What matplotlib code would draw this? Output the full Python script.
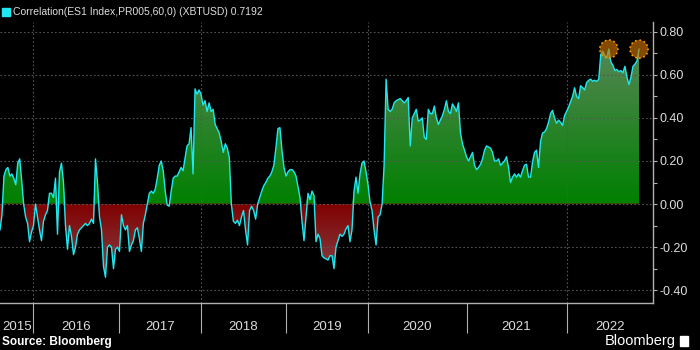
import numpy as np
import matplotlib
matplotlib.use("Agg")
import matplotlib.pyplot as plt
from matplotlib.path import Path
from matplotlib.patches import Rectangle
from matplotlib.ticker import FixedLocator, FixedFormatter, MultipleLocator, FormatStrFormatter

# 60-day correlation ES1 Index vs XBTUSD, values read per year (evenly spaced in each year)
corr_2015 = [-0.12, -0.05, 0.13, 0.16, 0.17, 0.13, 0.14, 0.12, 0.09, 0.19, 0.21, 0.11,
             0.0, -0.06, -0.09, -0.175, -0.13]
corr_2016 = [-0.10, 0.0, -0.06, -0.12, -0.17, -0.08, -0.05, -0.03, 0.05, 0.05, 0.03, 0.12,
             -0.14, 0.15, 0.19, 0.10, -0.10, -0.21, -0.10, -0.15, -0.235, -0.20, -0.14, -0.12,
             -0.11, -0.10, -0.09, -0.10, -0.09, -0.07, -0.09, 0.21, 0.10, -0.06, -0.12, -0.29,
             -0.34, -0.20, -0.19, -0.20, -0.30, -0.21, -0.20]
corr_2017 = [-0.22, -0.05, -0.10, -0.12, -0.10, -0.22, -0.19, -0.17, -0.12, -0.11, -0.16, -0.22,
             -0.09, -0.05, 0.0, 0.05, 0.06, 0.05, 0.07, 0.12, 0.18, 0.20, 0.155, 0.06,
             -0.005, -0.01, 0.06, 0.12, 0.13, 0.13, 0.15, 0.17, 0.155, 0.215, 0.27, 0.28,
             0.355, 0.14, 0.535, 0.51, 0.53]
corr_2018 = [0.51, 0.46, 0.48, 0.43, 0.47, 0.43, 0.44, 0.37, 0.35, 0.33, 0.29, 0.24,
             0.28, 0.26, 0.215, 0.0, -0.08, -0.09, -0.075, -0.10, -0.06, -0.03, -0.12, -0.19,
             -0.03, -0.01, -0.03, -0.07, 0.0, 0.03, 0.06, 0.085, 0.10, 0.12, 0.13, 0.15,
             0.18, 0.26, 0.35, 0.355, 0.25, 0.17]
corr_2019 = [0.13, 0.15, 0.16, 0.16, 0.15, 0.13, 0.08, 0.03, -0.08, -0.17, -0.06, 0.05,
             0.02, 0.06, 0.04, -0.175, -0.14, -0.16, -0.24, -0.25, -0.255, -0.26, -0.24, -0.24,
             -0.30, -0.20, -0.17, -0.14, -0.15, -0.14, -0.115, -0.10, -0.175, -0.12, 0.06, 0.125,
             0.05, 0.14, 0.19, 0.20, 0.15]
corr_2020 = [0.09, 0.01, -0.03, -0.12, -0.19, -0.06, -0.05, 0.0, 0.18, 0.58, 0.44, 0.43,
             0.44, 0.47, 0.48, 0.485, 0.49, 0.48, 0.47, 0.48, 0.495, 0.27, 0.40, 0.42,
             0.44, 0.385, 0.39, 0.40, 0.31, 0.30, 0.44, 0.42, 0.42, 0.455, 0.40, 0.37,
             0.39, 0.41, 0.44, 0.48, 0.43, 0.42, 0.465, 0.45, 0.43, 0.47, 0.33, 0.28, 0.25]
corr_2021 = [0.22, 0.20, 0.22, 0.24, 0.18, 0.16, 0.17, 0.185, 0.21, 0.25, 0.27, 0.265,
             0.26, 0.24, 0.20, 0.20, 0.21, 0.18, 0.19, 0.20, 0.22, 0.17, 0.10, 0.125,
             0.14, 0.125, 0.14, 0.125, 0.155, 0.18, 0.185, 0.125, 0.125, 0.195, 0.24, 0.25,
             0.17, 0.29, 0.33, 0.335, 0.35, 0.38, 0.42, 0.435, 0.40, 0.375, 0.39, 0.38,
             0.365, 0.41]
corr_2022 = [0.43, 0.45, 0.475, 0.50, 0.54, 0.50, 0.49, 0.55, 0.54, 0.53, 0.565, 0.575,
             0.58, 0.57, 0.575, 0.57, 0.58, 0.695, 0.71, 0.69, 0.68, 0.72, 0.66, 0.645,
             0.62, 0.625, 0.615, 0.62, 0.61, 0.64, 0.59, 0.555, 0.59, 0.64, 0.65, 0.665,
             0.7192]

series_start = 2015.606
series_end = 2022.725
year_labels = ["2015", "2016", "2017", "2018", "2019", "2020", "2021", "2022"]

# time axis is not calendar-uniform on the terminal chart: width of each year
year_edges = [2015, 2016, 2017, 2018, 2019, 2020, 2021, 2022, 2023]
year_widths = [85, 86, 81.5, 85, 82, 98.5, 100, 100]
edge_pos = np.concatenate([[0], np.cumsum(year_widths)])


def fwd(x):
    return np.interp(x, year_edges, edge_pos)


def inv(p):
    return np.interp(p, edge_pos, year_edges)


per_year = [corr_2015, corr_2016, corr_2017, corr_2018, corr_2019, corr_2020, corr_2021, corr_2022]
xs, ys = [], []
for yr, vals in zip(range(2015, 2023), per_year):
    n = len(vals)
    if yr == 2015:
        t = np.linspace(series_start, 2016, n, endpoint=False)
    elif yr == 2022:
        t = np.linspace(2022, series_end, n)
    else:
        t = yr + np.arange(n) / n
    xs.extend(t)
    ys.extend(vals)
x = np.array(xs)
y = np.array(ys)

xmin, xmax = 2015.606, 2022.865
ymin, ymax = -0.461, 0.8455

plt.rcParams['font.family'] = ['Liberation Sans', 'DejaVu Sans']
fig = plt.figure(figsize=(7, 3.5), dpi=100, facecolor='black')
ax = fig.add_axes([0, 0.1334, 0.9329, 0.8037], facecolor='black')
ax.set_xscale('function', functions=(fwd, inv))

# gradient fills, clipped to the area between the line and zero
pos = ax.fill_between(x, np.maximum(y, 0), 0, color='none', lw=0)
neg = ax.fill_between(x, np.minimum(y, 0), 0, color='none', lw=0)
clip = Path.make_compound_path(pos.get_paths()[0], neg.get_paths()[0])

rows = 400
vv = np.linspace(ymin, ymax, rows)
img = np.zeros((rows, 1, 3))
g = np.clip(vv / 0.8, 0, 1)
r = np.clip(-vv / 0.4, 0, 1)
green0, green1 = np.array([0, 128, 0]), np.array([95, 135, 95])
red0, red1 = np.array([128, 0, 0]), np.array([135, 80, 85])
for i, v in enumerate(vv):
    if v >= 0:
        img[i, 0] = (green0 + (green1 - green0) * g[i]) / 255
    else:
        img[i, 0] = (red0 + (red1 - red0) * r[i]) / 255
im = ax.imshow(img, extent=(0, 1, 0, 1), transform=ax.transAxes, origin='lower',
               aspect='auto', interpolation='bilinear', zorder=1)
im.set_clip_path(clip, transform=ax.transData)

ax.plot(x, y, color='#1ee8f0', lw=1.0, zorder=3)

# highlight the two 2022 peaks
hi = [int(np.argmax(y)), len(y) - 1]
ax.scatter(x[hi], y[hi], s=170, facecolor=(0.8, 0.45, 0.0, 0.65), edgecolor='#ff9900',
           linewidths=1.2, linestyles=':', zorder=4)

ax.set_xlim(xmin, xmax)
ax.set_ylim(ymin, ymax)

# grid
ax.set_axisbelow('line')
ax.grid(axis='y', which='major', color='#555555', linestyle=(0, (1.5, 2)), lw=0.8)
for yr in (2016, 2018, 2020, 2022):
    ax.axvline(yr, color='#555555', linestyle=(0, (1.5, 2)), lw=0.8, zorder=1.5)

for s in ('top', 'left'):
    ax.spines[s].set_visible(False)
for s in ('bottom', 'right'):
    ax.spines[s].set_color('#b0b0b0')
    ax.spines[s].set_linewidth(1.0)

ax.yaxis.tick_right()
ax.yaxis.set_major_locator(MultipleLocator(0.2))
ax.yaxis.set_minor_locator(MultipleLocator(0.1))
ax.yaxis.set_major_formatter(FormatStrFormatter('%.2f'))
ax.tick_params(axis='y', which='both', colors='#b0b0b0', labelcolor='#dddddd',
               length=3, width=0.8, pad=1.5, labelsize=9)

label_pos = [(xmin + 2016) / 2] + [yr + 0.5 for yr in range(2016, 2022)] + [(2022 + xmax) / 2]
ax.xaxis.set_major_locator(FixedLocator(label_pos))
ax.xaxis.set_major_formatter(FixedFormatter(year_labels))
ax.xaxis.set_minor_locator(FixedLocator(range(2016, 2023)))
ax.tick_params(axis='x', which='minor', length=21.6, width=0.8, color='#b0b0b0')
ax.tick_params(axis='x', which='major', length=0, pad=12.5, labelcolor='#dddddd', labelsize=9.5)

# header and footer
fig.patches.append(Rectangle((2 / 700, 1 - 16 / 350), 8 / 700, 8 / 350,
                             transform=fig.transFigure, color='#1ee8f0'))
fig.text(13 / 700, 1 - 12 / 350, "Correlation(ES1 Index,PR005,60,0) (XBTUSD) 0.7192",
         color='#dddddd', fontsize=7.5, va='center', ha='left')
fig.text(2 / 700, 1 - 342 / 350, "Source: Bloomberg", color='white', fontsize=8.5,
         weight='bold', va='center', ha='left')
fig.text(676 / 700, 1 - 341 / 350, "Bloomberg", color='white', fontsize=10.5,
         va='center', ha='right')
fig.patches.append(Rectangle((680 / 700, 1 - 346 / 350), 8 / 700, 10 / 350,
                             transform=fig.transFigure, color='white'))

fig.savefig("out.png", dpi=100, facecolor='black')
